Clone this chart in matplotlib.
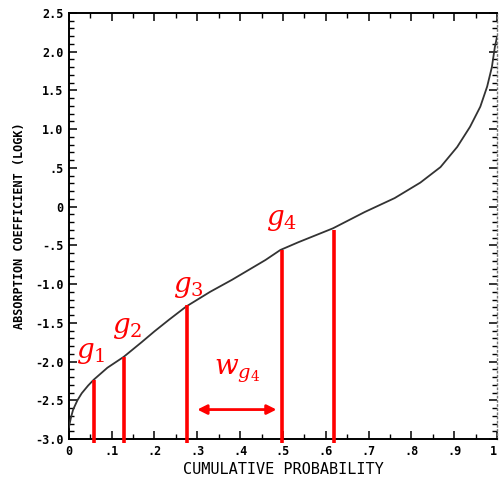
import matplotlib.pyplot as plt
import numpy as np
from matplotlib.ticker import MultipleLocator

# curve: cumulative probability g vs log k
g_curve = [0.0, 0.005, 0.01, 0.02, 0.03, 0.045, 0.058, 0.09, 0.128, 0.17, 0.2, 0.234,
           0.274, 0.33, 0.381, 0.459, 0.494, 0.536, 0.617, 0.691, 0.761, 0.821,
           0.868, 0.907, 0.937, 0.961, 0.977, 0.988, 0.995, 1.0]
logk_curve = [-2.85, -2.72, -2.62, -2.5, -2.41, -2.31, -2.235, -2.08, -1.94, -1.75, -1.61, -1.46,
              -1.29, -1.1, -0.945, -0.69, -0.56, -0.46, -0.28, -0.07, 0.11, 0.31,
              0.51, 0.77, 1.03, 1.29, 1.55, 1.80, 2.06, 2.19]

# red g-point markers
g_pts = [0.058, 0.128, 0.276, 0.497, 0.62]
g_tops = [-2.235, -1.94, -1.27, -0.56, -0.30]
g_labels = ['$g_1$', '$g_2$', '$g_3$', '$g_4$']
g_label_xy = [(0.05, -1.88), (0.135, -1.56), (0.28, -1.03), (0.497, -0.16)]

# width arrow for g4
w_arrow = (0.30, 0.485, -2.62)

yticks = [2.5, 2.0, 1.5, 1.0, 0.5, 0.0, -0.5, -1.0, -1.5, -2.0, -2.5, -3.0]
ytick_labels = ['2.5', '2.0', '1.5', '1.0', '.5', '0', '-.5', '-1.0', '-1.5',
                '-2.0', '-2.5', '-3.0']
xticks = [0, 0.1, 0.2, 0.3, 0.4, 0.5, 0.6, 0.7, 0.8, 0.9, 1.0]
xtick_labels = ['0', '.1', '.2', '.3', '.4', '.5', '.6', '.7', '.8', '.9', '1']

plt.rcParams['mathtext.fontset'] = 'dejavuserif'

fig = plt.figure(figsize=(4.99, 4.79), dpi=100, facecolor='white')
ax = fig.add_axes([0.138, 0.0835, 0.858, 0.8895])
ax.set_xlim(0, 1)
ax.set_ylim(-3.0, 2.5)

ax.plot(g_curve, logk_curve, color='#333333', lw=1.3, zorder=3)

for x, top in zip(g_pts, g_tops):
    ax.plot([x, x], [-3.05, top], color='#ff0000', lw=2.6, zorder=4, clip_on=False,
            solid_capstyle='butt')

for lab, (x, y) in zip(g_labels, g_label_xy):
    ax.text(x, y, lab, color='#ff0000', fontsize=20, ha='center', va='center')

x0, x1, ya = w_arrow
ax.annotate('', xy=(x0, ya), xytext=(x1, ya),
            arrowprops=dict(arrowstyle='<|-|>', color='#ff0000', lw=2,
                            mutation_scale=14, shrinkA=0, shrinkB=0))
ax.text((x0 + x1) / 2, -2.12, '$w_{g_4}$', color='#ff0000', fontsize=20,
        ha='center', va='center')

# ticks, old-printout style
ax.set_xticks(xticks)
ax.set_xticklabels(xtick_labels)
ax.set_yticks(yticks)
ax.set_yticklabels(ytick_labels)
ax.xaxis.set_minor_locator(MultipleLocator(0.05))
ax.yaxis.set_minor_locator(MultipleLocator(0.1))
ax.tick_params(which='major', direction='in', length=6, width=1.1,
               top=True, right=True, labelsize=8.5, pad=4)
ax.tick_params(which='minor', direction='in', length=3.5, width=1.0,
               top=True, right=True)
for lab in ax.get_xticklabels() + ax.get_yticklabels():
    lab.set_family('DejaVu Sans Mono')
    lab.set_fontweight('bold')
ax.get_xticklabels()[-1].set_horizontalalignment('right')

for s in ['left', 'bottom', 'top']:
    ax.spines[s].set_linewidth(1.4)
ax.spines['right'].set_linestyle((0, (1, 2)))
ax.spines['right'].set_color('#777777')
ax.spines['right'].set_linewidth(1.0)

ax.set_xlabel('CUMULATIVE PROBABILITY', fontsize=11, family='DejaVu Sans Mono',
              labelpad=3)
ax.set_ylabel('ABSORPTION COEFFICIENT (LOGK)', fontsize=8.5, family='DejaVu Sans Mono',
              fontweight='bold', labelpad=6)

plt.savefig('out.png', dpi=100, facecolor='white')
